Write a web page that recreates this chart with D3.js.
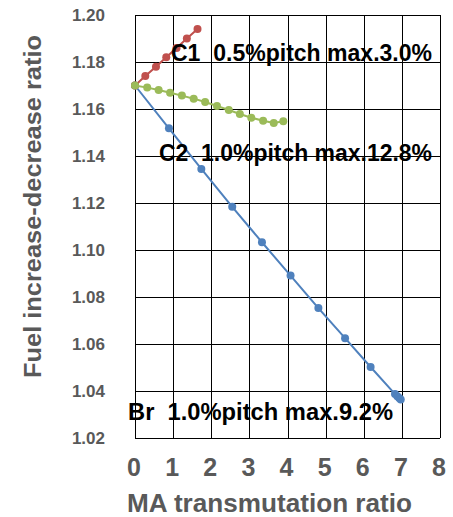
<!DOCTYPE html>
<html>
<head>
<meta charset="utf-8">
<script src="https://cdn.jsdelivr.net/npm/d3@7"></script>
<style>
  body { margin: 0; background: #fff; }
  svg { display: block; font-family: "Liberation Sans", Arial, sans-serif; }
</style>
</head>
<body>
<svg id="chart"></svg>
<script>
// chart values

var c1X = [0, 0.27, 0.55, 0.82, 1.09, 1.36, 1.64];
var c1Y = [1.170, 1.174, 1.178, 1.182, 1.186, 1.190, 1.194];

var c2X = [0, 0.32, 0.62, 0.92, 1.23, 1.54, 1.84, 2.15, 2.46, 2.75, 3.05, 3.36, 3.64, 3.89];
var c2Y = [1.170, 1.1691, 1.1681, 1.1669, 1.1657, 1.1644, 1.1630, 1.1613, 1.1596, 1.1579, 1.1563, 1.1550, 1.1540, 1.1548];

var brX = [0, 0.89, 1.74, 2.55, 3.33, 4.08, 4.81, 5.51, 6.18, 6.82, 6.88, 6.93, 6.97];
var brY = [1.170, 1.1518, 1.1345, 1.1184, 1.1033, 1.0891, 1.0753, 1.0625, 1.0502, 1.0387, 1.0378, 1.0370, 1.0364];

var xTicks = [0, 1, 2, 3, 4, 5, 6, 7, 8];
var yTicks = [1.02, 1.04, 1.06, 1.08, 1.10, 1.12, 1.14, 1.16, 1.18, 1.20];

var labels = ['C1  0.5%pitch max.3.0%', 'C2  1.0%pitch max.12.8%', 'Br  1.0%pitch max.9.2%'];

// svg measurements
var width = 453,
	height = 517,
	plotLeft = 135, plotRight = 440,
	plotTop = 15, plotBottom = 438;

var svg = d3.select('#chart')
			.attr('width', width)
			.attr('height', height);

var xScale = d3.scaleLinear()
				.domain([0, 8])
				.range([plotLeft, plotRight]);

var yScale = d3.scaleLinear()
				.domain([1.02, 1.20])
				.range([plotBottom, plotTop]);

// grid
svg.append('g')
	.selectAll('line')
	.data(xTicks)
	.enter()
	.append('line')
		.attr('x1', d => Math.round(xScale(d)) + 0.5)
		.attr('x2', d => Math.round(xScale(d)) + 0.5)
		.attr('y1', plotTop)
		.attr('y2', plotBottom)
		.attr('stroke', '#000')
		.attr('stroke-width', 1);

svg.append('g')
	.selectAll('line')
	.data(yTicks)
	.enter()
	.append('line')
		.attr('x1', plotLeft)
		.attr('x2', plotRight)
		.attr('y1', d => Math.round(yScale(d)) + 0.5)
		.attr('y2', d => Math.round(yScale(d)) + 0.5)
		.attr('stroke', '#000')
		.attr('stroke-width', 1);

// tick labels
svg.append('g')
	.selectAll('text')
	.data(yTicks)
	.enter()
	.append('text')
		.attr('x', 105)
		.attr('y', d => yScale(d))
		.attr('dy', '0.36em')
		.attr('text-anchor', 'end')
		.attr('fill', '#595959')
		.style('font-size', '17px')
		.style('font-weight', 'bold')
		.text(d => d.toFixed(2));

svg.append('g')
	.selectAll('text')
	.data(xTicks)
	.enter()
	.append('text')
		.attr('x', d => xScale(d) - 1)
		.attr('y', 476)
		.attr('text-anchor', 'middle')
		.attr('fill', '#595959')
		.style('font-size', '25px')
		.style('font-weight', 'bold')
		.text(d => d);

// axes titles
svg.append('text')
	.attr('x', 127)
	.attr('y', 512)
	.attr('textLength', 285)
	.attr('lengthAdjust', 'spacingAndGlyphs')
	.attr('fill', '#595959')
	.style('font-size', '25px')
	.style('font-weight', 'bold')
	.text('MA transmutation ratio');

svg.append('text')
	.attr('transform', 'translate(41,378) rotate(-90)')
	.attr('textLength', 343)
	.attr('lengthAdjust', 'spacingAndGlyphs')
	.attr('fill', '#595959')
	.style('font-size', '24px')
	.style('font-weight', 'bold')
	.text('Fuel increase-decrease ratio');

// series (green drawn last, it sits on top at the shared start point)
var series = [
	{ x: brX, y: brY, color: '#4F81BD' },
	{ x: c1X, y: c1Y, color: '#C0504D' },
	{ x: c2X, y: c2Y, color: '#9BBB59' }
];

var line = d3.line()
	.x(d => xScale(d[0]))
	.y(d => yScale(d[1]));

series.forEach(function(s) {
	var pts = s.x.map((v, i) => [v, s.y[i]]);
	svg.append('path')
		.datum(pts)
		.attr('d', line)
		.attr('fill', 'none')
		.attr('stroke', s.color)
		.attr('stroke-width', 2);
	svg.append('g')
		.selectAll('circle')
		.data(pts)
		.enter()
		.append('circle')
			.attr('cx', d => xScale(d[0]))
			.attr('cy', d => yScale(d[1]))
			.attr('r', 4)
			.attr('fill', s.color);
});

// annotations
var labelPos = [
	{ x: 171, y: 61, w: 261 },
	{ x: 159, y: 161, w: 273 },
	{ x: 128, y: 420, w: 265 }
];

svg.append('g')
	.selectAll('text')
	.data(labels)
	.enter()
	.append('text')
		.attr('x', (d, i) => labelPos[i].x)
		.attr('y', (d, i) => labelPos[i].y)
		.attr('textLength', (d, i) => labelPos[i].w)
		.attr('lengthAdjust', 'spacingAndGlyphs')
		.attr('fill', '#000')
		.style('white-space', 'pre')
		.style('font-size', '23px')
		.style('font-weight', 'bold')
		.text(d => d);
</script>
</body>
</html>
